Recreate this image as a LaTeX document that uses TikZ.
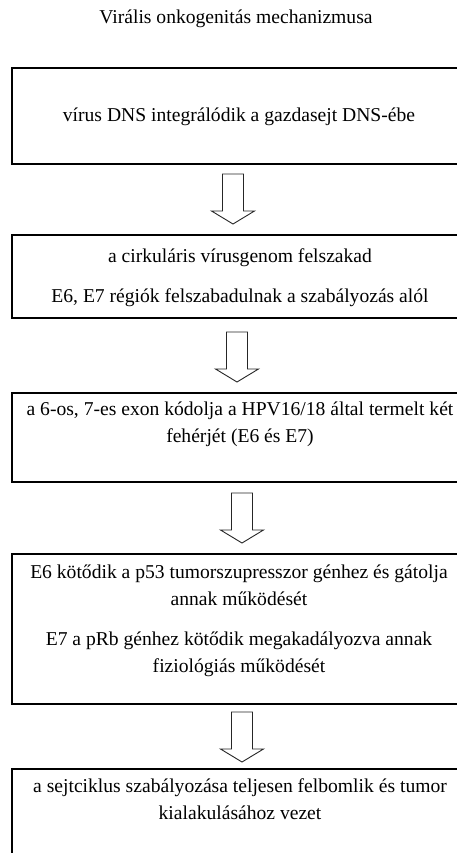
\documentclass[tikz,border=0pt]{standalone}
\usepackage{fontspec}
\setmainfont{Liberation Serif}
\usepackage{tikz}
\newcommand{\blockarrow}[2]{\draw[blk] (#1-10.5,#2) -- (#1+10.5,#2) -- (#1+10.5,#2+37) -- (#1+21.5,#2+37) -- (#1,#2+50) -- (#1-21.5,#2+37) -- (#1-10.5,#2+37) -- cycle;}

\begin{document}
\begin{tikzpicture}[x=1pt, y=-1pt,
  box/.style={draw, line width=1.8pt, rectangle, minimum width=458pt, anchor=north west, inner sep=0pt},
  txt/.style={align=center, anchor=north, inner sep=0pt, font=\fontsize{19.6}{27}\selectfont},
  blk/.style={draw=black!85, line width=0.9pt, fill=white, line join=miter}]
\useasboundingbox (0,0) rectangle (457,853);
\clip (0,0) rectangle (457,853);
\node[txt] (title) at (236,9.5) {Virális onkogenitás mechanizmusa};
\node[box, minimum height=96pt] (b1) at (11,67) {};
\node[box, minimum height=83pt] (b2) at (11,234) {};
\node[box, minimum height=89pt] (b3) at (11,392) {};
\node[box, minimum height=150pt] (b4) at (11,553) {};
\node[box, minimum height=140pt] (b5) at (11,768) {};
\node[txt] (t1) at (239,107.5) {vírus DNS integrálódik a gazdasejt DNS-ébe};
\node[txt] (t2) at (240,248.5) {a cirkuláris vírusgenom felszakad\\[13pt]E6, E7 régiók felszabadulnak a szabályozás alól};
\node[txt] (t3) at (240,401.5) {a 6-os, 7-es exon kódolja a HPV16/18 által termelt két\\fehérjét (E6 és E7)};
\node[txt] (t4) at (239,564.5) {E6 kötődik a p53 tumorszupresszor génhez és gátolja\\annak működését\\[13pt]E7 a pRb génhez kötődik megakadályozva annak\\fiziológiás működését};
\node[txt] (t5) at (240,778.5) {a sejtciklus szabályozása teljesen felbomlik és tumor\\kialakulásához vezet};
\blockarrow{233}{174}
\blockarrow{237}{332}
\blockarrow{242}{493}
\blockarrow{242}{712}
\end{tikzpicture}
\end{document}
